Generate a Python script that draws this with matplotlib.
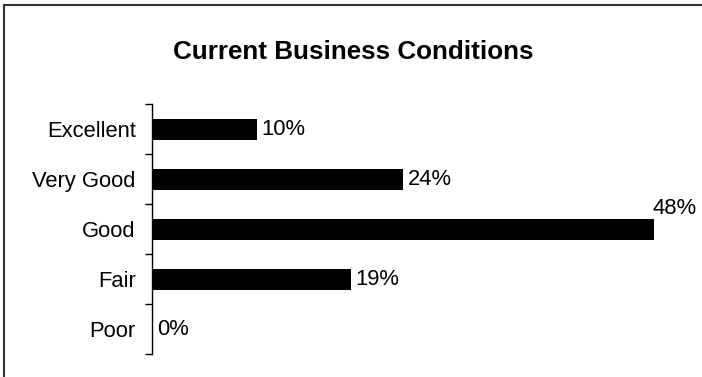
import matplotlib.pyplot as plt
from matplotlib.patches import Rectangle

plt.rcParams['font.family'] = ['Liberation Sans', 'DejaVu Sans']

categories = ['Excellent', 'Very Good', 'Good', 'Fair', 'Poor']
shares = [10, 24, 48, 19, 0]
share_labels = ['10%', '24%', '48%', '19%', '0%']

fig = plt.figure(figsize=(7.02, 3.77), dpi=100)
ax = fig.add_axes([0.2172, 0.061, 0.7144, 0.663])

ypos = list(range(len(categories)))
ax.barh(ypos, shares, height=0.42, color='black')
ax.set_ylim(len(categories) - 0.5, -0.5)
ax.set_xlim(0, 48)

# category labels sit between boundary ticks, like a spreadsheet chart
ax.set_yticks(ypos)
ax.set_yticklabels(categories, fontsize=15.8)
ax.tick_params(axis='y', which='major', length=0, pad=12)
ax.set_yticks([i - 0.5 for i in range(len(categories) + 1)], minor=True)
ax.tick_params(axis='y', which='minor', length=5, width=1, direction='out')
ax.set_xticks([])
for side in ['top', 'right', 'bottom']:
    ax.spines[side].set_visible(False)
ax.spines['left'].set_linewidth(1)

for y, v, lab in zip(ypos, shares, share_labels):
    if v == max(shares):
        ax.annotate(lab, (v, y), xytext=(-1, 15), textcoords='offset points',
                    ha='left', va='center', fontsize=15.8)
    else:
        ax.annotate(lab, (v, y), xytext=(3.5, 0), textcoords='offset points',
                    ha='left', va='center', fontsize=15.8)

fig.text(0.503, 0.8427, 'Current Business Conditions', ha='center', va='baseline',
         fontsize=18.7, fontweight='bold')

# chart frame
fig.patches.append(Rectangle((4 / 702, -0.1), 1.2, 1.1 - 4.5 / 377, transform=fig.transFigure,
                             fill=False, edgecolor='#333333', linewidth=1.5))

fig.savefig('out.png', dpi=100)
